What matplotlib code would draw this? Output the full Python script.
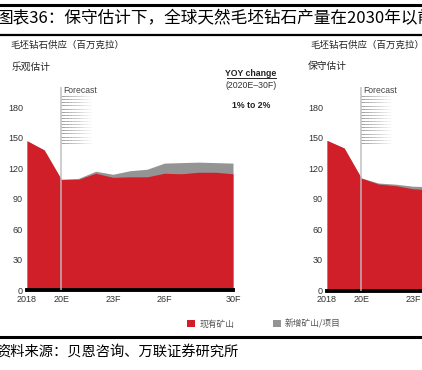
import numpy as np
import matplotlib.pyplot as plt
from matplotlib.patches import Patch
from matplotlib.lines import Line2D

# 数据（百万克拉）
years = list(range(2018, 2031))
opt_existing = [147, 138, 109, 109, 115, 111, 111.5, 111.5, 115, 114.5, 116, 116, 114.5]
opt_total = [147, 138, 109, 110, 117, 114, 117.5, 119, 125, 125.5, 126, 125.5, 125]

cons_years = list(range(2018, 2025))
cons_existing = [147.5, 140, 110.5, 104.6, 103, 100, 99]
cons_total = [147.5, 140, 110.5, 105.6, 104.5, 102.5, 102]

xtick_pos = [2018, 2020, 2023, 2026, 2030]
xtick_labels = ['2018', '20E', '23F', '26F', '30F']
yticks = [0, 30, 60, 90, 120, 150, 180]

red = '#D01F29'
gray = '#949494'
cjk = ['Noto Sans CJK SC', 'DejaVu Sans']
latin = ['Liberation Sans', 'DejaVu Sans']

W, H = 422, 370
fig = plt.figure(figsize=(W / 100, H / 100), dpi=100)


def px(x0, y0, x1, y1):
    # 像素框 -> figure 坐标
    return [x0 / W, 1 - y1 / H, (x1 - x0) / W, (y1 - y0) / H]


def draw_panel(ax, xs, existing, total):
    ax.fill_between(xs, 0, total, color=gray, lw=0)
    ax.fill_between(xs, 0, existing, color=red, lw=0)
    ax.set_xlim(2018, 2030)
    ax.set_ylim(0, 200)
    for s in ['top', 'right', 'left']:
        ax.spines[s].set_visible(False)
    ax.spines['bottom'].set_linewidth(2.8)
    ax.spines['bottom'].set_color('black')
    ax.set_yticks(yticks)
    ax.set_yticklabels([str(v) for v in yticks], family=latin, fontsize=6.5, color='#333333')
    ax.set_xticks(xtick_pos)
    ax.set_xticklabels(xtick_labels, family=latin, fontsize=6.5, color='#333333')
    ax.tick_params(axis='y', length=0, pad=3)
    ax.tick_params(axis='x', length=0, pad=3.5)
    # Forecast 分隔线
    ax.axvline(2020, ymin=0, ymax=0.995, color='#bdbdbd', lw=1.3, alpha=0.8, zorder=3)
    ax.text(2020.12, 197, 'Forecast', family=latin, fontsize=6.2, color='#444444', va='center')
    hy = np.linspace(145, 191, 16)
    segs = np.linspace(2020, 2021.7, 9)
    for y in hy:
        for i in range(len(segs) - 1):
            ax.plot([segs[i], segs[i + 1]], [y, y], color='#808080', lw=0.6,
                    alpha=0.85 * (1 - i / (len(segs) - 1)), solid_capstyle='butt')


ax1 = fig.add_axes(px(27, 87, 233, 290))
draw_panel(ax1, years, opt_existing, opt_total)

ax2 = fig.add_axes(px(327, 87, 533, 290.5))
draw_panel(ax2, cons_years, cons_existing, cons_total)

# 标题与分隔线
fig.add_artist(Line2D([0, 1], [1 - 5 / H, 1 - 5 / H], color='black', lw=2.2))
fig.text(-0.008, 1 - 19 / H, '图表36：保守估计下，全球天然毛坯钻石产量在2030年以前',
         family=cjk, fontsize=12.0, va='center', ha='left')
fig.add_artist(Line2D([0, 1], [1 - 35 / H, 1 - 35 / H], color='black', lw=1.6))

fig.text(10 / W, 1 - 45 / H, '毛坯钻石供应（百万克拉）', family=cjk, fontsize=6.8,
         va='center', color='#222222')
fig.text(310 / W, 1 - 45 / H, '毛坯钻石供应（百万克拉）', family=cjk, fontsize=6.8,
         va='center', color='#222222')
fig.text(12 / W, 1 - 67 / H, '乐观估计', family=cjk, fontsize=7, va='center', color='#222222')
fig.text(308 / W, 1 - 66 / H, '保守估计', family=cjk, fontsize=7, va='center', color='#222222')

# YOY change 注释
fig.text(251 / W, 1 - 73 / H, 'YOY change', family=latin, fontsize=6.3, weight='bold',
         ha='center', va='center', color='#222222')
fig.add_artist(Line2D([227 / W, 276 / W], [1 - 78 / H, 1 - 78 / H], color='#222222', lw=0.7))
fig.text(251 / W, 1 - 86 / H, '(2020E\u201330F)', family=latin, fontsize=6.3,
         ha='center', va='center', color='#333333')
fig.text(251 / W, 1 - 105 / H, '1% to 2%', family=latin, fontsize=6.3, weight='bold',
         ha='center', va='center', color='#222222')

# 图例
handles = [Patch(color=red, lw=0), Patch(color=gray, lw=0)]
fig.legend(handles, ['现有矿山', '新增矿山/项目'], loc='center', ncol=2,
           bbox_to_anchor=(264 / W, 1 - 324 / H), frameon=False,
           prop={'family': cjk, 'size': 6.3}, labelcolor='#555555',
           handlelength=0.9, handleheight=0.9, handletextpad=0.5, columnspacing=4.4)

fig.add_artist(Line2D([0, 1], [1 - 337 / H, 1 - 337 / H], color='black', lw=2.2))
fig.text(-0.008, 1 - 353 / H, '资料来源：贝恩咨询、万联证券研究所', family=cjk,
         fontsize=10.3, va='center', ha='left')

fig.savefig('out.png', dpi=100)
